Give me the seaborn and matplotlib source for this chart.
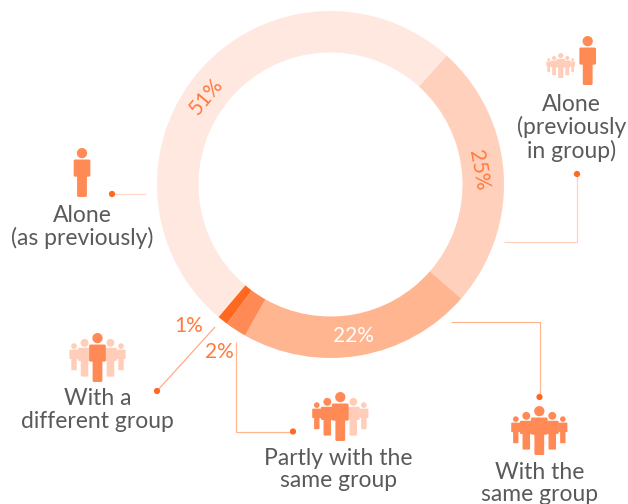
import matplotlib
matplotlib.use("Agg")
import matplotlib.pyplot as plt
import seaborn as sns
from matplotlib.patches import Circle, FancyBboxPatch

# shares, clockwise from the upper right boundary
shares = [25, 22, 2, 1, 51]
share_labels = ["25%", "22%", "2%", "1%", "51%"]
slice_colors = ["#FFD0BC", "#FFB590", "#FF8A55", "#FF6820", "#FFE8DF"]

names = ["Alone\n(as previously)", "Alone\n(previously\nin group)", "With a\ndifferent group",
         "Partly with the\nsame group", "With the\nsame group"]

DARK = "#FF8A55"
LIGHT = "#FFCDB8"
DOT = "#FF6820"
GREY = "#5A5A5A"

sns.set_theme(style="white")
plt.rcParams["font.family"] = ["Lato", "DejaVu Sans"]

fig = plt.figure(figsize=(6.28, 5.04), dpi=100)
ax = fig.add_axes([0, 0, 1, 1])

# y axis runs downwards so the layout below is in picture pixels
ax.pie(shares, colors=slice_colors, center=(330.5, 184.5), radius=173.5,
       startangle=-48, counterclock=True, wedgeprops={"width": 41.5, "linewidth": 0})
ax.set_aspect("equal")
ax.set_xlim(0, 628)
ax.set_ylim(504, 0)
ax.set_axis_off()


def person(x, top, h, color):
    r = 0.105 * h
    ax.add_patch(Circle((x, top + r), r, fc=color, ec="none"))
    tw, lw = 0.34 * h, 0.2 * h
    pad = 0.03 * h
    ax.add_patch(FancyBboxPatch((x - tw / 2 + pad, top + 0.235 * h + pad), tw - 2 * pad, 0.35 * h - 2 * pad,
                                boxstyle=f"round,pad={pad}", fc=color, ec="none"))
    ax.add_patch(FancyBboxPatch((x - lw / 2 + pad, top + 0.5 * h), lw - 2 * pad, 0.5 * h - pad,
                                boxstyle=f"round,pad={pad}", fc=color, ec="none"))


def crowd(x, top, h, colors):
    # five figures, drawn outer ones first
    dx1, dx2 = 0.265 * h, 0.48 * h
    mid = top + h * 0.5
    person(x - dx2, mid - 0.29 * h, 0.55 * h, colors[0])
    person(x + dx2, mid - 0.29 * h, 0.55 * h, colors[4])
    person(x - dx1, mid - 0.38 * h, 0.77 * h, colors[1])
    person(x + dx1, mid - 0.38 * h, 0.77 * h, colors[3])
    person(x, top, h, colors[2])


person(82, 148, 49, DARK)
crowd(560.7, 53, 25, [LIGHT] * 5)
person(587.7, 36, 49, DARK)
crowd(97.5, 333, 49, [LIGHT, LIGHT, DARK, LIGHT, LIGHT])
crowd(340.3, 392, 49, [DARK, DARK, DARK, LIGHT, LIGHT])
crowd(539.3, 406, 49, [DARK] * 5)

# leader lines and their end dots
leaders = [
    ([112, 146], [194, 194], "#FFD8C8"),
    ([577, 577, 504], [174, 242, 242], "#FFD0BC"),
    ([157, 215], [391, 327], "#FFA880"),
    ([293, 236, 236], [431.5, 431.5, 342], "#FFB590"),
    ([539.5, 539.5, 451], [397, 322, 322], "#FFB590"),
]
for xs, ys, c in leaders:
    ax.plot(xs, ys, color=c, lw=0.85, solid_joinstyle="miter", solid_capstyle="butt")
    ax.add_patch(Circle((xs[0], ys[0]), 3.1, fc=DOT, ec="none", zorder=3))

# share labels
label_pos = [(478, 170, -80, "#FF7A3D"), (353, 336, 0, "white"), (219, 352, 0, "#FF7A3D"),
             (188.5, 325.5, 0, "#FF7A3D"), (206, 96, 50, "#FF7A3D")]
for lab, (x, y, rot, c) in zip(share_labels, label_pos):
    ax.text(x, y, lab, color=c, fontsize=15, rotation=rot,
            ha="center", va="center", rotation_mode="anchor")

name_pos = [(82, 227), (571.5, 128), (97.5, 410), (338.5, 469.5), (540, 483.5)]
for name, (x, y) in zip(names, name_pos):
    ax.text(x, y, name, color=GREY, fontsize=16.5, ha="center", va="center",
            linespacing=1.09, clip_on=True)

fig.savefig("out.png", dpi=100)
